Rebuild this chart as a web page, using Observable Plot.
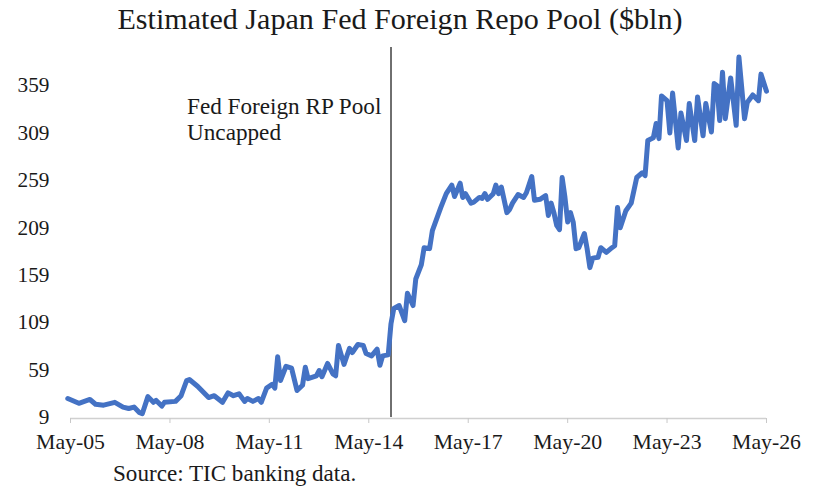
<!DOCTYPE html>
<html>
<head>
<meta charset="utf-8">
<script src="https://cdn.jsdelivr.net/npm/d3@7"></script>
<script src="https://cdn.jsdelivr.net/npm/@observablehq/plot@0.6"></script>
<style>
  html, body { margin: 0; padding: 0; background: #fff; }
  #wrap { width: 816px; height: 494px; position: relative; overflow: hidden; }
  #title { font-family: 'Liberation Serif', 'Tinos', serif; line-height: 1;
           color: #1a1a1a; text-align: center; width: 800px; height: 40px; padding-top: 4px; box-sizing: border-box; white-space: nowrap; }
  #caption { font-family: 'Liberation Serif', 'Tinos', serif; line-height: 1;
             color: #1a1a1a; padding-left: 113px; margin-top: 2px; white-space: nowrap; }
  svg { display: block; }
</style>
</head>
<body>
<div id="wrap">
  <div id="title">Estimated Japan Fed Foreign Repo Pool ($bln)</div>
  <div id="chart"></div>
  <div id="caption">Source: TIC banking data.</div>
</div>
<script>
// Monthly estimates
const months = [
  "2005-04","2005-08","2005-10","2005-12","2006-02","2006-05","2006-09","2006-12","2007-02","2007-04",
  "2007-06","2007-07","2007-09","2007-11","2007-12","2008-02","2008-03","2008-07","2008-09","2008-11",
  "2008-12","2009-03","2009-07","2009-09","2009-12","2010-02","2010-04","2010-06","2010-08","2010-09",
  "2010-11","2011-01","2011-02","2011-04","2011-06","2011-07","2011-08","2011-09","2011-11","2012-01",
  "2012-03","2012-05","2012-06","2012-07","2012-10","2012-11","2012-12","2013-02","2013-04","2013-05",
  "2013-06","2013-08","2013-10","2013-11","2014-01","2014-03","2014-04","2014-06","2014-08","2014-09",
  "2014-10","2014-12","2015-01","2015-02","2015-04","2015-06","2015-07","2015-09","2015-10","2015-12",
  "2016-01","2016-03","2016-04","2016-06","2016-07","2016-09","2016-11","2016-12","2017-02","2017-03",
  "2017-04","2017-06","2017-07","2017-09","2017-10","2017-11","2017-12","2018-02","2018-03","2018-04",
  "2018-05","2018-07","2018-08","2018-09","2018-11","2019-01","2019-02","2019-04","2019-05","2019-07",
  "2019-09","2019-10","2019-11","2019-12","2020-01","2020-02","2020-03","2020-04","2020-05","2020-06",
  "2020-07","2020-08","2020-09","2020-11","2020-12","2021-01","2021-02","2021-04","2021-05","2021-07",
  "2021-09","2021-10","2021-11","2021-12","2022-02","2022-04","2022-06","2022-08","2022-09","2022-10",
  "2022-12","2023-01","2023-02","2023-03","2023-05","2023-06","2023-07","2023-09","2023-10","2023-12",
  "2024-01","2024-03","2024-04","2024-06","2024-07","2024-09","2024-10","2024-11","2024-12","2025-01",
  "2025-02","2025-04","2025-06","2025-07","2025-09","2025-10","2025-12","2026-02","2026-03","2026-05"
];
const pool = [
  29,24,26,28,23,22,25,20,18.5,20,
  14,13,31,25,27,21,25,26,32,48,
  49,42,30,32,25,35,32,34,26,29,
  26,29,25,40,44,40,73,48,63,61,
  37.5,43,62,50,53,58.5,52,66,55,53,
  85,65,82,77.5,86,85,76.5,74,81,64,
  74,75,108,124,127,111,140,127,155,170,
  188,187,206,222,230,245,254,242,256,241,
  245,235,236,241,240,245,239,245,254,245,
  252,225,228.5,235,244,241,246,263,238,239,
  243,222,235,225,211.5,207,262,241,215,225,
  215,187,188,203,187,167,177,178,188,183,
  188,190,230.5,209,227,235,262,267,264,301,
  304,319,303,348,343,309,351,293,330,301,
  340,301,347,306,340,310,361,359,322,373,
  324,367,317,389,324,341,349,343,371,353
];

const xTicks = ["2005-05","2008-05","2011-05","2014-05","2017-05","2020-05","2023-05","2026-05"];
const yTicks = [9, 59, 109, 159, 209, 259, 309, 359];
const xDomain = ["2005-05", "2026-05"];
const ruleMonth = ["2015-01"];
const ruleSpan = [9, 399];
const noteText = ["Fed Foreign RP Pool\nUncapped"];
const noteValue = [348.5];

const serif = "'Liberation Serif', 'Tinos', serif";
// pick font sizes so the rendered text widths match the reference
const ctx = document.createElement("canvas").getContext("2d");
function fit(text, target) {
  ctx.font = `100px ${serif}`;
  return Math.round(1000 * target / ctx.measureText(text).width) / 10;
}
const titleSize = fit("Estimated Japan Fed Foreign Repo Pool ($bln)", 566);
const tickSize = fit("May-05", 69);
const ySize = fit("359", 32);
const noteSize = fit("Fed Foreign RP Pool", 195);
const capSize = fit("Source: TIC banking data.", 244);
document.getElementById("title").style.fontSize = titleSize + "px";
document.getElementById("caption").style.fontSize = capSize + "px";

const parse = d3.utcParse("%Y-%m");
const data = months.map((m, i) => ({date: parse(m), value: pool[i]}));
const fmt = d3.utcFormat("%b-%y");

const chart = Plot.plot({
  width: 816,
  height: 420,
  marginLeft: 70,
  marginRight: 50,
  marginTop: 0,
  marginBottom: 43,
  style: {fontFamily: serif, fontSize: tickSize + "px", color: "#1a1a1a", background: "#fff", overflow: "visible"},
  x: {type: "utc", domain: xDomain.map(parse), range: [70, 766]},
  y: {domain: [9, 359], range: [377, 45]},
  marks: [
    Plot.ruleY([9], {x1: parse(xDomain[0]), x2: parse(xDomain[1]), stroke: "#d0d0d0", strokeWidth: 1.5, dy: 1}),
    Plot.axisX({ticks: xTicks.map(parse), tickFormat: fmt, tickSize: 5, tickPadding: 10,
                stroke: "#c8c8c8", fill: "#1a1a1a", fontSize: tickSize, label: null, dy: 1}),
    Plot.axisY({ticks: yTicks, tickFormat: d => String(d), tickSize: 0, tickPadding: 21,
                fill: "#1a1a1a", fontSize: ySize, label: null}),
    Plot.ruleX(ruleMonth.map(parse), {y1: ruleSpan[0], y2: ruleSpan[1], stroke: "#404040", strokeWidth: 1.5}),
    Plot.text(noteText, {x: ruleMonth.map(parse), y: noteValue, text: d => d, textAnchor: "start",
                lineAnchor: "top", dx: -204, lineHeight: 26 / noteSize, fontSize: noteSize, fill: "#1a1a1a"}),
    Plot.line(data, {x: "date", y: "value", stroke: "#4472C4", strokeWidth: 5,
                strokeLinejoin: "round", strokeLinecap: "round"})
  ]
});
document.getElementById("chart").appendChild(chart);
</script>
</body>
</html>
